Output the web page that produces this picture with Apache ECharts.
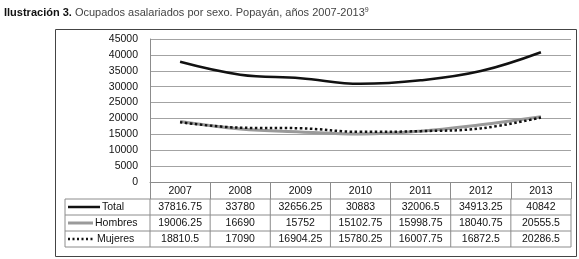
<!DOCTYPE html>
<html>
<head>
<meta charset="utf-8">
<script src="https://cdn.jsdelivr.net/npm/echarts@6/dist/echarts.min.js"></script>
<style>
  html, body { margin: 0; padding: 0; background: #fff; }
  #chart { width: 579px; height: 259px; }
</style>
</head>
<body>
<div id="chart"></div>
<script>
const years = ['2007', '2008', '2009', '2010', '2011', '2012', '2013'];
const total = [37816.75, 33780, 32656.25, 30883, 32006.5, 34913.25, 40842];
const hombres = [19006.25, 16690, 15752, 15102.75, 15998.75, 18040.75, 20555.5];
const mujeres = [18810.5, 17090, 16904.25, 15780.25, 16007.75, 16872.5, 20286.5];
const rowNames = ['Total', 'Hombres', 'Mujeres'];

var chart = echarts.init(document.getElementById('chart'));

const font = 'Liberation Sans';
const gridCol = '#a3a3a3';
const tableCol = '#8c8c8c';

// line styles, reused for the legend keys in the table
const styles = [
  { color: '#111', width: 2.5, type: 'solid' },
  { color: '#9a9a9a', width: 3, type: 'solid' },
  { color: '#111', width: 2.5, type: 'dotted' }
];
const rowData = [total, hombres, mujeres];

const option = {
  animation: false,
  title: {
    text: '{b|Ilustración 3.} Ocupados asalariados por sexo. Popayán, años 2007-2013{s|9}',
    left: -1,
    top: 2,
    textStyle: {
      fontFamily: font,
      fontSize: 11,
      fontWeight: 'normal',
      color: '#444',
      rich: {
        b: { fontFamily: font, fontSize: 11, fontWeight: 'bold', color: '#111' },
        s: { fontFamily: font, fontSize: 7, color: '#444', verticalAlign: 'top', padding: [0, 0, 5, 0] }
      }
    }
  },
  grid: { left: 150, right: 8, top: 39, bottom: 77 },
  xAxis: {
    type: 'category',
    data: years,
    boundaryGap: true,
    axisLine: { lineStyle: { color: tableCol, width: 1 } },
    axisTick: { show: true, interval: 0, length: 17, lineStyle: { color: tableCol } },
    axisLabel: { interval: 0, margin: 4, fontFamily: font, fontSize: 10.5, color: '#111' }
  },
  yAxis: {
    type: 'value',
    min: 0,
    max: 45000,
    interval: 5000,
    axisLine: { show: true, lineStyle: { color: tableCol } },
    axisTick: { show: false },
    splitLine: { lineStyle: { color: gridCol, width: 1 } },
    axisLabel: { margin: 12, fontFamily: font, fontSize: 10.5, color: '#111', formatter: (v) => String(v) }
  },
  series: rowNames.map((name, i) => ({
    name: name,
    type: 'line',
    data: rowData[i],
    smooth: 0.4,
    showSymbol: false,
    lineStyle: styles[i]
  })),
  graphic: []
};

chart.setOption(option);

// data table under the plot, laid out from the axis positions
const c0 = chart.convertToPixel({ xAxisIndex: 0 }, years[0]);
const c1 = chart.convertToPixel({ xAxisIndex: 0 }, years[1]);
const step = c1 - c0;
const xLeft = c0 - step / 2;
const xRight = xLeft + step * years.length;
const yTop = chart.convertToPixel({ yAxisIndex: 0 }, 0) + 17;
const rowH = 16;
const tableLeft = 65;

const g = [];
const ln = (x1, y1, x2, y2) => g.push({
  type: 'line', silent: true,
  shape: { x1: x1, y1: y1, x2: x2, y2: y2 },
  style: { stroke: tableCol, lineWidth: 1 }
});

for (let r = 0; r <= rowNames.length; r++) {
  ln(tableLeft, yTop + r * rowH, xRight, yTop + r * rowH);
}
ln(tableLeft, yTop, tableLeft, yTop + rowH * rowNames.length);
for (let c = 0; c <= years.length; c++) {
  ln(xLeft + c * step, yTop, xLeft + c * step, yTop + rowH * rowNames.length);
}

const textX = [102, 95, 97];
rowNames.forEach((name, r) => {
  const yc = yTop + r * rowH + rowH / 2;
  g.push({
    type: 'line', silent: true,
    shape: { x1: 68, y1: yc, x2: textX[r] - 2, y2: yc },
    style: { stroke: styles[r].color, lineWidth: styles[r].width, lineDash: styles[r].type === 'dotted' ? [2, 2.5] : null }
  });
  g.push({
    type: 'text', silent: true,
    style: { x: textX[r], y: yc, text: name, font: '10.5px "' + font + '"', fill: '#111', textAlign: 'left', textVerticalAlign: 'middle' }
  });
  rowData[r].forEach((v, c) => {
    g.push({
      type: 'text', silent: true,
      style: { x: c0 + c * step, y: yc, text: String(v), font: '10.5px "' + font + '"', fill: '#111', textAlign: 'center', textVerticalAlign: 'middle' }
    });
  });
});

// outer frame
g.push({
  type: 'rect', silent: true,
  shape: { x: 55.5, y: 29.5, width: 521, height: 227 },
  style: { fill: null, stroke: '#444', lineWidth: 1 }
});

chart.setOption({ graphic: g });
</script>
</body>
</html>
